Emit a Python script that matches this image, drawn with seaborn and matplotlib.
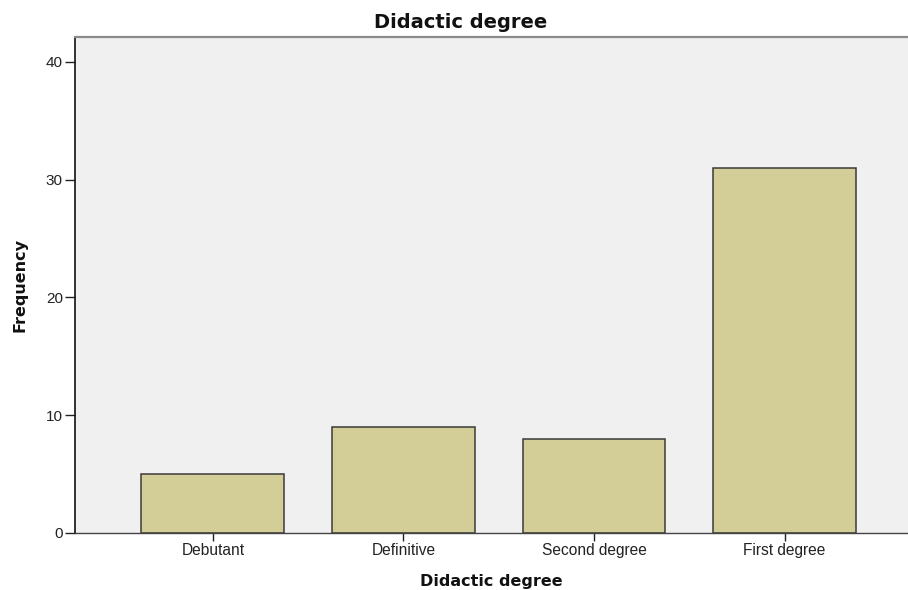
import matplotlib
matplotlib.use("Agg")
import matplotlib.pyplot as plt
import seaborn as sns
import pandas as pd

categories = ["Debutant", "Definitive", "Second degree", "First degree"]
frequencies = [5, 9, 8, 31]
y_ticks = [0, 10, 20, 30, 40]

df = pd.DataFrame({"Didactic degree": categories, "Frequency": frequencies})

sns.set_theme(style="white")
plt.rcParams["font.family"] = ["Liberation Sans", "DejaVu Sans"]

fig = plt.figure(figsize=(9.08, 5.90), dpi=100)
ax = fig.add_axes([75 / 908, 57 / 590, 1 - 75 / 908, (533 - 37) / 590])
ax.set_facecolor("#f0f0f0")

sns.barplot(data=df, x="Didactic degree", y="Frequency", color="#d3ce97",
            saturation=1, width=0.75, edgecolor="#3a3a3a", linewidth=1.1, ax=ax)

ax.set_ylim(0, 42.1)
ax.set_xlim(-0.724, 3.648)
ax.set_yticks(y_ticks)
ax.tick_params(axis="y", which="both", left=True, length=7.2, width=1.0,
               color="#222222", pad=1.5, labelsize=11, labelcolor="#222222")
ax.tick_params(axis="x", which="both", bottom=True, length=5.5, width=1.0,
               color="#222222", pad=1.5, labelsize=11.2, labelcolor="#222222")

for s in ["left", "bottom", "top", "right"]:
    ax.spines[s].set_visible(True)
ax.spines["left"].set_color("#111111")
ax.spines["left"].set_linewidth(1.2)
ax.spines["bottom"].set_color("#444444")
ax.spines["bottom"].set_linewidth(1.0)
ax.spines["top"].set_color("#8a8a8a")
ax.spines["top"].set_linewidth(1.6)
ax.spines["right"].set_visible(False)

ax.set_xlabel("Didactic degree", family=["DejaVu Sans"], fontweight="bold",
              fontsize=11.5, color="#111111", labelpad=11.5)
ax.set_ylabel("Frequency", family=["DejaVu Sans"],
              fontweight="bold", fontsize=11.5, color="#111111", labelpad=13.5)

fig.text(461 / 908, 1 - 22 / 590, "Didactic degree", family=["DejaVu Sans"],
         fontweight="bold", fontsize=14, color="#111111", ha="center", va="center")

fig.savefig("out.png", dpi=100)
